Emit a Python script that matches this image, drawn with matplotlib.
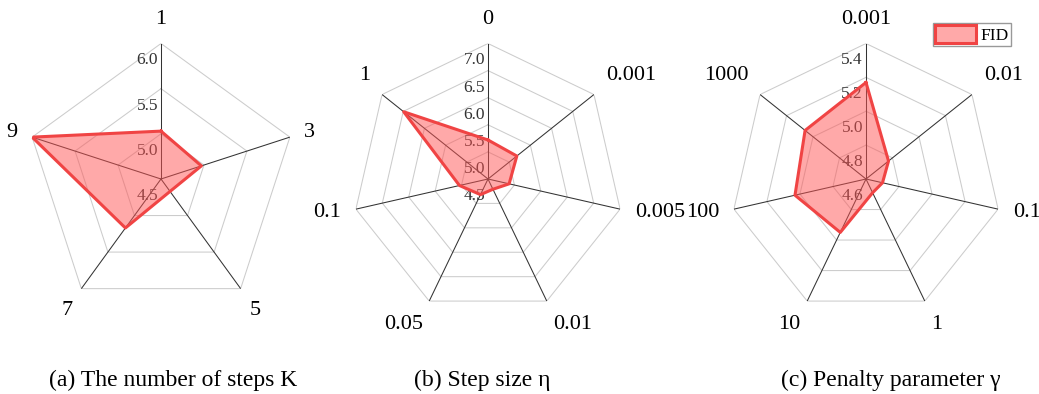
import numpy as np
import matplotlib
matplotlib.use("Agg")
import matplotlib.pyplot as plt
from matplotlib.patches import Patch

plt.rcParams["font.family"] = ["Liberation Serif", "DejaVu Serif"]

# (a) number of steps K
steps_labels = ["1", "3", "5", "7", "9"]
steps_fid = [5.03, 4.97, 4.67, 5.17, 6.00]
steps_ticks = [4.5, 5.0, 5.5, 6.0]

# (b) step size eta
eta_labels = ["0", "0.001", "0.005", "0.01", "0.05", "0.1", "1"]
eta_fid = [5.22, 5.18, 4.90, 4.71, 4.82, 5.04, 6.49]
eta_ticks = [4.5, 5.0, 5.5, 6.0, 6.5, 7.0]

# (c) penalty parameter gamma
gamma_labels = ["0.001", "0.01", "0.1", "1", "10", "100", "1000"]
gamma_fid = [5.17, 4.77, 4.70, 4.69, 4.95, 5.03, 5.06]
gamma_ticks = [4.6, 4.8, 5.0, 5.2, 5.4]

captions = ["(a) The number of steps K", "(b) Step size η", "(c) Penalty parameter γ"]

LINE = "#f04444"
FILL = (1.0, 0.33, 0.33, 0.5)

W, H = 1039, 394
R = 135.5
centers = [(161, 179), (488, 179), (866, 179)]
caption_x = [173, 482, 891]


def radar(ax, labels, values, ticks):
    n = len(labels)
    theta = np.arange(n) * 2 * np.pi / n
    closed_t = np.append(theta, theta[0])
    ax.set_theta_offset(np.pi / 2)
    ax.set_theta_direction(-1)
    ax.set_ylim(ticks[0], ticks[-1])
    ax.set_axis_off()

    for t in ticks[1:]:
        ax.plot(closed_t, [t] * (n + 1), color="#cccccc", lw=0.75, zorder=1)
    for th in theta:
        ax.plot([th, th], [ticks[0], ticks[-1]], color="#333333", lw=0.75, zorder=1)
    for t in ticks:
        ax.annotate(f"{t:.1f}", xy=(0, t), xytext=(-3, -17), textcoords="offset pixels",
                    ha="right", va="center", fontsize=12.5, color="#333333",
                    annotation_clip=False, zorder=2)

    vals = np.append(values, values[0])
    ax.fill(closed_t, vals, color=FILL, lw=0, zorder=3)
    ax.plot(closed_t, vals, color=LINE, lw=2.2, zorder=4)

    for th, lab in zip(theta, labels):
        dx, dy = np.sin(th), np.cos(th)
        ha = "center" if abs(dx) < 0.01 else ("left" if dx > 0 else "right")
        va = "center" if abs(dy) < 0.5 else ("bottom" if dy > 0 else "top")
        ax.annotate(lab, xy=(th, ticks[-1]), xytext=(15 * dx, 15 * dy),
                    textcoords="offset pixels", ha=ha, va=va, fontsize=16,
                    annotation_clip=False)


fig = plt.figure(figsize=(W / 100, H / 100), dpi=100)
panels = [(steps_labels, steps_fid, steps_ticks),
          (eta_labels, eta_fid, eta_ticks),
          (gamma_labels, gamma_fid, gamma_ticks)]

for (cx, cy), (labels, values, ticks) in zip(centers, panels):
    ax = fig.add_axes([(cx - R) / W, 1 - (cy + R) / H, 2 * R / W, 2 * R / H], projection="polar")
    radar(ax, labels, values, ticks)

for x, cap in zip(caption_x, captions):
    fig.text(x / W, 1 - 380 / H, cap, ha="center", va="center", fontsize=17)

handle = Patch(facecolor=FILL, edgecolor=LINE, lw=2.2)
fig.legend([handle], ["FID"], loc="upper right", bbox_to_anchor=(1011 / W, 1 - 23 / H),
           fancybox=False, edgecolor="#999999", framealpha=1, fontsize=12.5,
           handlelength=2.4, handleheight=1.25, borderpad=0.12, handletextpad=0.25,
           borderaxespad=0)

fig.savefig("out.png", dpi=100)
